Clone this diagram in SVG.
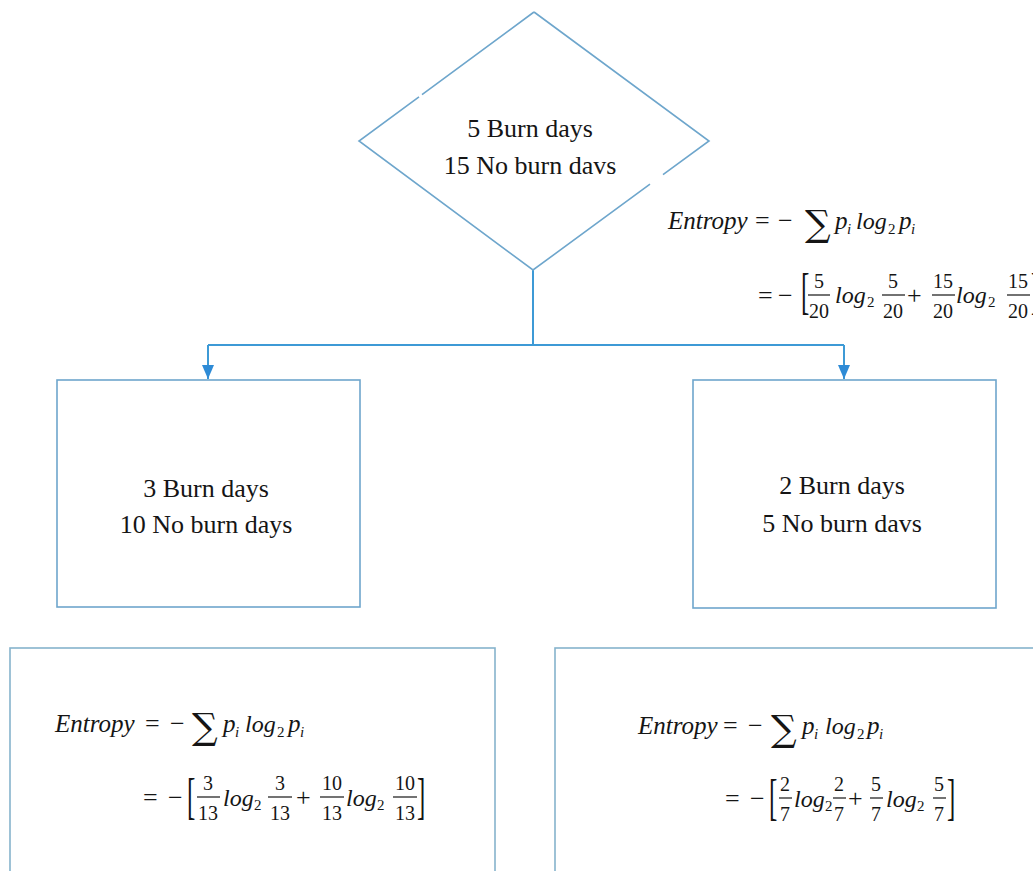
<svg xmlns="http://www.w3.org/2000/svg" width="1033" height="871" viewBox="0 0 1033 871">
<style>
.shape{fill:#fff;stroke:#6ea6cc;stroke-width:1.6}
.edge{fill:none;stroke:#6ea6cc;stroke-width:1.6}
.box2{fill:#fff;stroke:#86b3cc;stroke-width:1.6}
.conn{fill:none;stroke:#3d9ad6;stroke-width:2}
.lbl{font-size:26px;fill:#151515;text-anchor:middle}
.m{font-size:25px;fill:#151515}
.it{font-style:italic}
.lg{font-style:italic;font-size:24px}
.sub{font-size:15px}
.op{font-size:26px}
.num{font-size:20px;text-anchor:middle}
.sig{font-size:36px;fill:#151515}
.bar{stroke:#151515;stroke-width:1.2}
</style>
<defs>
<marker id="ah" markerUnits="userSpaceOnUse" markerWidth="14" markerHeight="12" refX="14" refY="6" orient="auto">
<path d="M0,0 L14,6 L0,12 z" fill="#2e8bd6"/>
</marker>
</defs>

<g id="connectors">
<path class="conn" d="M533,270 V345"/>
<path class="conn" d="M208,345 H844"/>
<path class="conn" d="M208,345 V379" marker-end="url(#ah)"/>
<path class="conn" d="M844,345 V379" marker-end="url(#ah)"/>
</g>

<g font-family="'Liberation Serif', 'DejaVu Serif', serif">
<g id="root">
<polygon points="534,12 709,141 533,270 359,141" fill="#fff" stroke="none"/>
<path class="edge" d="M534,12 L709,141 L663,174.7 M650,184.2 L533,270 L359,141 L419,96.8 M422,94.6 L534,12"/>
<text class="lbl" x="530" y="137">5 Burn days</text>
<text class="lbl" x="530" y="174">15 No burn davs</text>
</g>

<g id="entropy-root">
<text class="m it" x="668" y="229">Entropy</text>
<text class="m op" x="755" y="229">=</text>
<text class="m op" x="778" y="229">−</text>
<text class="sig" font-family="'DejaVu Serif', serif" x="805" y="236">∑</text>
<text class="m it" x="835" y="229">p</text>
<text class="m it sub" x="847" y="234">i</text>
<text class="m lg" x="856" y="229">log</text>
<text class="m sub" x="888" y="234">2</text>
<text class="m it" x="899" y="229">p</text>
<text class="m it sub" x="911" y="234">i</text>
<text class="m op" x="758" y="304">=</text>
<text class="m op" x="778" y="304">−</text>
<text class="m" transform="translate(801,308) scale(1,2)">[</text>
<text class="m num" x="819" y="288">5</text><line class="bar" x1="808" y1="295" x2="830" y2="295"/><text class="m num" x="819" y="318">20</text>
<text class="m lg" x="835" y="303">log</text>
<text class="m sub" x="867" y="307">2</text>
<text class="m num" x="893" y="288">5</text><line class="bar" x1="882" y1="295" x2="905" y2="295"/><text class="m num" x="893" y="318">20</text>
<text class="m op" x="907" y="304">+</text>
<text class="m num" x="943" y="288">15</text><line class="bar" x1="932" y1="295" x2="955" y2="295"/><text class="m num" x="943" y="318">20</text>
<text class="m lg" x="956" y="303">log</text>
<text class="m sub" x="988" y="307">2</text>
<text class="m num" x="1018" y="288">15</text><line class="bar" x1="1007" y1="295" x2="1030" y2="295"/><text class="m num" x="1018" y="318">20</text>
<text class="m" transform="translate(1031,308) scale(1,2)">]</text>
</g>

<g id="left">
<rect class="shape" x="57" y="380" width="303" height="227"/>
<text class="lbl" x="206" y="497">3 Burn days</text>
<text class="lbl" x="206" y="533">10 No burn days</text>
</g>

<g id="right">
<rect class="shape" x="693" y="380" width="303" height="228"/>
<text class="lbl" x="842" y="494">2 Burn days</text>
<text class="lbl" x="842" y="532">5 No burn davs</text>
</g>

<g id="entropy-left">
<rect class="box2" x="10" y="648" width="485" height="240"/>
<text class="m it" x="55" y="732">Entropy</text>
<text class="m op" x="145" y="732">=</text>
<text class="m op" x="170" y="732">−</text>
<text class="sig" font-family="'DejaVu Serif', serif" x="192" y="739">∑</text>
<text class="m it" x="223" y="732">p</text>
<text class="m it sub" x="235" y="737">i</text>
<text class="m lg" x="245" y="732">log</text>
<text class="m sub" x="277" y="737">2</text>
<text class="m it" x="288" y="732">p</text>
<text class="m it sub" x="300" y="737">i</text>
<text class="m op" x="143" y="806">=</text>
<text class="m op" x="168" y="806">−</text>
<text class="m" transform="translate(187,813) scale(1,2)">[</text>
<text class="m num" x="208" y="790">3</text><line class="bar" x1="197" y1="797" x2="220" y2="797"/><text class="m num" x="208" y="820">13</text>
<text class="m lg" x="223" y="806">log</text>
<text class="m sub" x="254" y="810">2</text>
<text class="m num" x="280" y="790">3</text><line class="bar" x1="268" y1="797" x2="292" y2="797"/><text class="m num" x="280" y="820">13</text>
<text class="m op" x="296" y="806">+</text>
<text class="m num" x="332" y="790">10</text><line class="bar" x1="320" y1="797" x2="344" y2="797"/><text class="m num" x="332" y="820">13</text>
<text class="m lg" x="346" y="806">log</text>
<text class="m sub" x="377" y="810">2</text>
<text class="m num" x="405" y="790">10</text><line class="bar" x1="393" y1="797" x2="417" y2="797"/><text class="m num" x="405" y="820">13</text>
<text class="m" transform="translate(417,813) scale(1,2)">]</text>
</g>

<g id="entropy-right">
<rect class="box2" x="555" y="648" width="500" height="240"/>
<text class="m it" x="638" y="734">Entropy</text>
<text class="m op" x="723" y="734">=</text>
<text class="m op" x="748" y="734">−</text>
<text class="sig" font-family="'DejaVu Serif', serif" x="771" y="741">∑</text>
<text class="m it" x="802" y="734">p</text>
<text class="m it sub" x="814" y="739">i</text>
<text class="m lg" x="825" y="734">log</text>
<text class="m sub" x="857" y="739">2</text>
<text class="m it" x="867" y="734">p</text>
<text class="m it sub" x="879" y="739">i</text>
<text class="m op" x="725" y="807">=</text>
<text class="m op" x="750" y="807">−</text>
<text class="m" transform="translate(769,814) scale(1,2)">[</text>
<text class="m num" x="785" y="791">2</text><line class="bar" x1="779" y1="798" x2="792" y2="798"/><text class="m num" x="785" y="821">7</text>
<text class="m lg" x="794" y="807">log</text>
<text class="m sub" x="825" y="811">2</text>
<text class="m num" x="839" y="791">2</text><line class="bar" x1="833" y1="798" x2="846" y2="798"/><text class="m num" x="839" y="821">7</text>
<text class="m op" x="848" y="807">+</text>
<text class="m num" x="876" y="791">5</text><line class="bar" x1="870" y1="798" x2="883" y2="798"/><text class="m num" x="876" y="821">7</text>
<text class="m lg" x="886" y="807">log</text>
<text class="m sub" x="917" y="811">2</text>
<text class="m num" x="939" y="791">5</text><line class="bar" x1="933" y1="798" x2="946" y2="798"/><text class="m num" x="939" y="821">7</text>
<text class="m" transform="translate(947,814) scale(1,2)">]</text>
</g>
</g>
</svg>
